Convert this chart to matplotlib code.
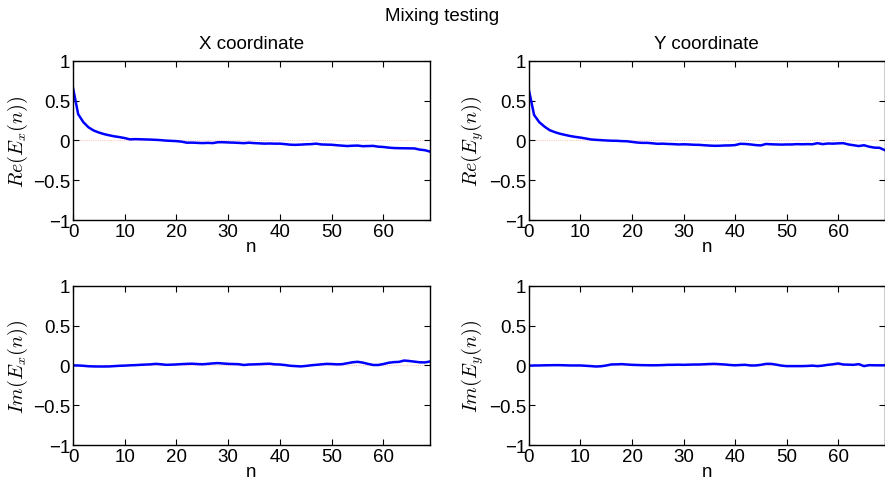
import numpy as np
import matplotlib
matplotlib.use("Agg")
import matplotlib.pyplot as plt

plt.rcParams['font.family'] = ['Liberation Sans', 'DejaVu Sans']
plt.rcParams['mathtext.fontset'] = 'cm'

n = list(range(70))

re_x = [0.66, 0.33, 0.23, 0.165, 0.125, 0.10, 0.080, 0.065, 0.052, 0.042,
        0.030, 0.014, 0.017, 0.015, 0.013, 0.011, 0.008, 0.004, -0.002, -0.005,
        -0.008, -0.015, -0.028, -0.027, -0.030, -0.033, -0.030, -0.033, -0.022, -0.022,
        -0.025, -0.027, -0.030, -0.034, -0.028, -0.033, -0.036, -0.040, -0.038, -0.040,
        -0.040, -0.046, -0.053, -0.055, -0.052, -0.048, -0.046, -0.040, -0.050, -0.052,
        -0.054, -0.060, -0.065, -0.070, -0.066, -0.064, -0.072, -0.070, -0.068, -0.078,
        -0.082, -0.090, -0.095, -0.097, -0.098, -0.099, -0.100, -0.115, -0.122, -0.140]

re_y = [0.63, 0.32, 0.23, 0.175, 0.13, 0.105, 0.085, 0.070, 0.056, 0.045,
        0.036, 0.025, 0.013, 0.008, 0.004, 0.000, -0.003, -0.004, -0.008, -0.010,
        -0.018, -0.026, -0.030, -0.030, -0.036, -0.042, -0.040, -0.044, -0.046, -0.050,
        -0.048, -0.050, -0.054, -0.055, -0.060, -0.064, -0.067, -0.066, -0.063, -0.062,
        -0.058, -0.042, -0.044, -0.050, -0.058, -0.062, -0.044, -0.048, -0.050, -0.052,
        -0.050, -0.050, -0.046, -0.048, -0.046, -0.048, -0.034, -0.046, -0.038, -0.040,
        -0.036, -0.034, -0.050, -0.060, -0.070, -0.060, -0.078, -0.090, -0.092, -0.120]

im_x = [0.000, 0.000, -0.004, -0.010, -0.012, -0.013, -0.013, -0.012, -0.008, -0.004,
        -0.002, 0.002, 0.004, 0.008, 0.011, 0.014, 0.020, 0.015, 0.008, 0.010,
        0.013, 0.017, 0.020, 0.022, 0.018, 0.015, 0.020, 0.026, 0.030, 0.025,
        0.020, 0.018, 0.016, 0.006, 0.012, 0.014, 0.016, 0.020, 0.022, 0.014,
        0.012, 0.005, -0.004, -0.008, -0.012, -0.006, 0.002, 0.008, 0.014, 0.020,
        0.018, 0.014, 0.016, 0.028, 0.040, 0.046, 0.036, 0.020, 0.006, 0.006,
        0.018, 0.034, 0.042, 0.045, 0.062, 0.056, 0.048, 0.040, 0.038, 0.050]

im_y = [-0.004, 0.000, 0.000, 0.002, 0.003, 0.004, 0.004, 0.002, 0.000, 0.000,
        0.000, -0.004, -0.008, -0.013, -0.010, 0.000, 0.013, 0.014, 0.017, 0.012,
        0.008, 0.006, 0.004, 0.003, 0.002, 0.003, 0.005, 0.008, 0.008, 0.010,
        0.008, 0.010, 0.012, 0.012, 0.015, 0.018, 0.020, 0.016, 0.012, 0.006,
        0.002, 0.006, 0.008, 0.000, 0.000, 0.008, 0.020, 0.020, 0.010, -0.002,
        -0.008, -0.008, -0.008, -0.008, -0.006, -0.002, -0.008, -0.002, 0.008, 0.015,
        0.025, 0.012, 0.010, 0.008, 0.017, -0.008, 0.004, 0.002, 0.002, 0.002]

yticks = [-1, -0.5, 0, 0.5, 1]
yticklabels = ['\u22121', '\u22120.5', '0', '0.5', '1']
xticks = [0, 10, 20, 30, 40, 50, 60]
col_titles = ['X coordinate', 'Y coordinate']
ylabels = [[r'$Re(E_x(n))$', r'$Re(E_y(n))$'],
           [r'$Im(E_x(n))$', r'$Im(E_y(n))$']]
series = [[re_x, re_y], [im_x, im_y]]

fig = plt.figure(figsize=(8.85, 4.85), dpi=100)
lefts = [0.0825, 0.5977]
width = [0.4034, 0.4018]
bottoms = [0.5443, 0.0804]
height = 0.328
fs = 13.5

for r in range(2):
    for c in range(2):
        ax = fig.add_axes([lefts[c], bottoms[r], width[c], height])
        ax.axhline(0, color=(1.0, 0.65, 0.65), lw=0.6, ls=':', zorder=1)
        ax.plot(n, series[r][c], color='#0000ff', lw=1.8, zorder=2)
        ax.set_xlim(0, 69)
        ax.set_ylim(-1, 1)
        ax.set_xticks(xticks)
        ax.set_yticks(yticks)
        ax.set_yticklabels(yticklabels)
        ax.tick_params(direction='in', top=True, right=True, length=4, width=0.8,
                       labelsize=fs, pad=2)
        for s in ax.spines.values():
            s.set_linewidth(1.0)
        ax.set_xlabel('n', fontsize=fs, labelpad=-1)
        ax.set_ylabel(ylabels[r][c], fontsize=14.5, labelpad=2)
        if r == 0:
            ax.set_title(col_titles[c], fontsize=fs, pad=9)

fig.suptitle('Mixing testing', fontsize=fs, y=0.984)
fig.savefig('out.png', dpi=100)
